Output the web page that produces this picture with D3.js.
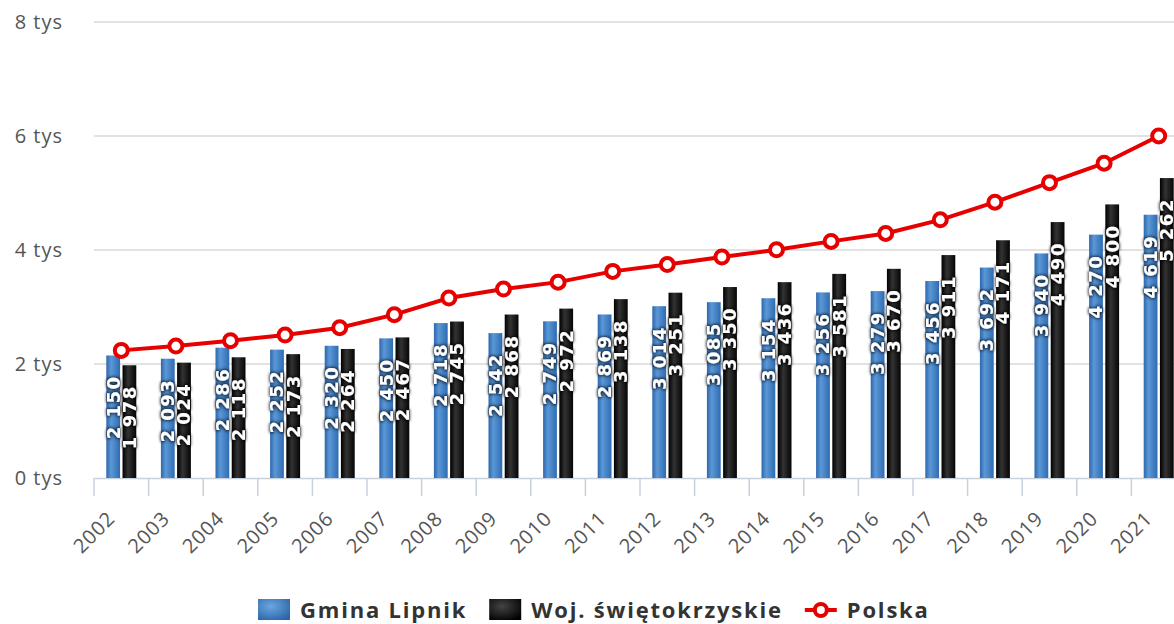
<!DOCTYPE html>
<html>
<head>
<meta charset="utf-8">
<script src="https://cdn.jsdelivr.net/npm/d3@7"></script>
<style>
  html, body { margin: 0; padding: 0; background: #fff; }
  svg { display: block; }
</style>
</head>
<body>
<div id="chart"></div>
<script>
const years = ["2002","2003","2004","2005","2006","2007","2008","2009","2010","2011","2012","2013","2014","2015","2016","2017","2018","2019","2020","2021"];
const gminaLipnik = [2150, 2093, 2286, 2252, 2320, 2450, 2718, 2542, 2749, 2869, 3014, 3085, 3154, 3256, 3279, 3456, 3692, 3940, 4270, 4619];
const wojSwietokrzyskie = [1978, 2024, 2118, 2173, 2264, 2467, 2745, 2868, 2972, 3138, 3251, 3350, 3436, 3581, 3670, 3911, 4171, 4490, 4800, 5262];
const polska = [2239, 2314, 2409, 2507, 2637, 2866, 3158, 3315, 3436, 3625, 3744, 3877, 4004, 4151, 4291, 4529, 4839, 5182, 5523, 6001];
const yTicks = [0, 2000, 4000, 6000, 8000];
const seriesNames = ["Gmina Lipnik", "Woj. świętokrzyskie", "Polska"];

const width = 1174, height = 624;
const svg = d3.select("#chart").append("svg").attr("width", width).attr("height", height);

// gradients + label glow
const defs = svg.append("defs");
function barGrad(id, stops) {
    const g = defs.append("linearGradient").attr("id", id).attr("x1", "0%").attr("x2", "100%").attr("y1", "0%").attr("y2", "0%");
    stops.forEach(s => g.append("stop").attr("offset", s[0]).attr("stop-color", s[1]));
}
barGrad("gBlue", [["0%", "#2d67ad"], ["35%", "#5b98d6"], ["100%", "#2f6bb2"]]);
barGrad("gBlack", [["0%", "#000"], ["40%", "#333"], ["100%", "#050505"]]);
function legGrad(id, c1, c2) {
    const g = defs.append("radialGradient").attr("id", id).attr("cx", "40%").attr("cy", "35%").attr("r", "75%");
    g.append("stop").attr("offset", "0%").attr("stop-color", c1);
    g.append("stop").attr("offset", "100%").attr("stop-color", c2);
}
legGrad("lBlue", "#6aa6e0", "#2b64a8");
legGrad("lBlack", "#444", "#000");
const glow = defs.append("filter").attr("id", "glow").attr("x", "-30%").attr("y", "-30%").attr("width", "160%").attr("height", "160%");
glow.append("feMorphology").attr("in", "SourceAlpha").attr("operator", "dilate").attr("radius", 1).attr("result", "d");
glow.append("feGaussianBlur").attr("in", "d").attr("stdDeviation", 1.8).attr("result", "b");
glow.append("feComponentTransfer").attr("in", "b").attr("result", "s").append("feFuncA").attr("type", "linear").attr("slope", 0.7);
const fm = glow.append("feMerge");
fm.append("feMergeNode").attr("in", "s");
fm.append("feMergeNode").attr("in", "SourceGraphic");

const x = d3.scaleBand().domain(years).range([94, 1186]).padding(0);
const y = d3.scaleLinear().domain([0, 8000]).range([478, 22]);
const inner = d3.scaleBand().domain([0, 1]).range([0, 30]).paddingInner(0.15);
const groupOffset = -15;

// grid
svg.append("g").selectAll("line").data(yTicks.filter(d => d > 0)).join("line")
    .attr("x1", 94).attr("x2", width).attr("y1", d => y(d)).attr("y2", d => y(d))
    .attr("stroke", "#d9d9d9").attr("stroke-width", 1.5);

// y labels
svg.append("g").selectAll("text").data(yTicks).join("text")
    .attr("x", 63).attr("y", d => y(d)).attr("dy", "0.35em").attr("text-anchor", "end")
    .style("font", "20px 'Open Sans'").style("letter-spacing", "1px").attr("fill", "#555")
    .text(d => (d / 1000) + " tys");

// x axis
const xAxis = svg.append("g").attr("transform", `translate(0,${y(0)})`)
    .call(d3.axisBottom(x).tickSize(0).tickFormat(""));
xAxis.select(".domain").attr("stroke", "#c8d0dc").attr("stroke-width", 1.5);
svg.append("g").selectAll("line").data(d3.range(years.length + 1)).join("line")
    .attr("x1", i => 94 + i * x.step()).attr("x2", i => 94 + i * x.step())
    .attr("y1", y(0)).attr("y2", y(0) + 18).attr("stroke", "#c8d0dc").attr("stroke-width", 1.5);
svg.append("g").selectAll("text").data(years).join("text")
    .attr("transform", d => `translate(${x(d) + x.bandwidth() / 2 - 10},${y(0) + 37}) rotate(-45)`)
    .attr("text-anchor", "end").attr("dy", "0.35em")
    .style("font", "20px 'Open Sans'").style("letter-spacing", "0.8px").attr("fill", "#555")
    .text(d => d);

// bars
const barData = [];
years.forEach((yr, i) => {
    barData.push({ yr, s: 0, v: gminaLipnik[i] });
    barData.push({ yr, s: 1, v: wojSwietokrzyskie[i] });
});
const bx = d => x(d.yr) + x.bandwidth() / 2 + groupOffset + inner(d.s);
svg.append("g").selectAll("rect").data(barData).join("rect")
    .attr("x", bx).attr("width", inner.bandwidth())
    .attr("y", d => y(d.v)).attr("height", d => y(0) - y(d.v))
    .attr("fill", d => d.s === 0 ? "url(#gBlue)" : "url(#gBlack)");

// polska line
const line = d3.line().x((d, i) => x(years[i]) + x.bandwidth() / 2).y(d => y(d));
svg.append("path").datum(polska).attr("d", line).attr("fill", "none")
    .attr("stroke", "#e60000").attr("stroke-width", 4);
svg.append("g").selectAll("circle").data(polska).join("circle")
    .attr("cx", (d, i) => x(years[i]) + x.bandwidth() / 2).attr("cy", d => y(d)).attr("r", 6.5)
    .attr("fill", "#fff").attr("stroke", "#e60000").attr("stroke-width", 4);

// bar labels
const fmt = v => d3.format(",")(v).replace(/,/g, " ");
svg.append("g").attr("filter", "url(#glow)").selectAll("text").data(barData).join("text")
    .attr("transform", d => `translate(${bx(d) + inner.bandwidth() / 2},${y(d.v) + 20}) rotate(-90)`)
    .attr("text-anchor", "end").attr("dy", "0.36em")
    .style("font", "bold 18px 'DejaVu Sans'").style("letter-spacing", "1.5px").attr("fill", "#fff")
    .text(d => fmt(d.v));

// legend
const leg = svg.append("g");
let lx = 258;
seriesNames.forEach((name, i) => {
    if (i < 2) {
        leg.append("rect").attr("x", lx).attr("y", 599).attr("width", 32).attr("height", 21)
            .attr("fill", i === 0 ? "url(#lBlue)" : "url(#lBlack)");
    } else {
        leg.append("line").attr("x1", lx).attr("x2", lx + 32).attr("y1", 610).attr("y2", 610)
            .attr("stroke", "#e60000").attr("stroke-width", 4);
        leg.append("circle").attr("cx", lx + 16).attr("cy", 610).attr("r", 6)
            .attr("fill", "#fff").attr("stroke", "#e60000").attr("stroke-width", 4);
    }
    const t = leg.append("text").attr("x", lx + 42).attr("y", 618)
        .style("font", "bold 22px 'Open Sans'").style("letter-spacing", "1.8px").attr("fill", "#333")
        .text(name);
    lx += 42 + t.node().getComputedTextLength() + 22;
});
</script>
</body>
</html>
